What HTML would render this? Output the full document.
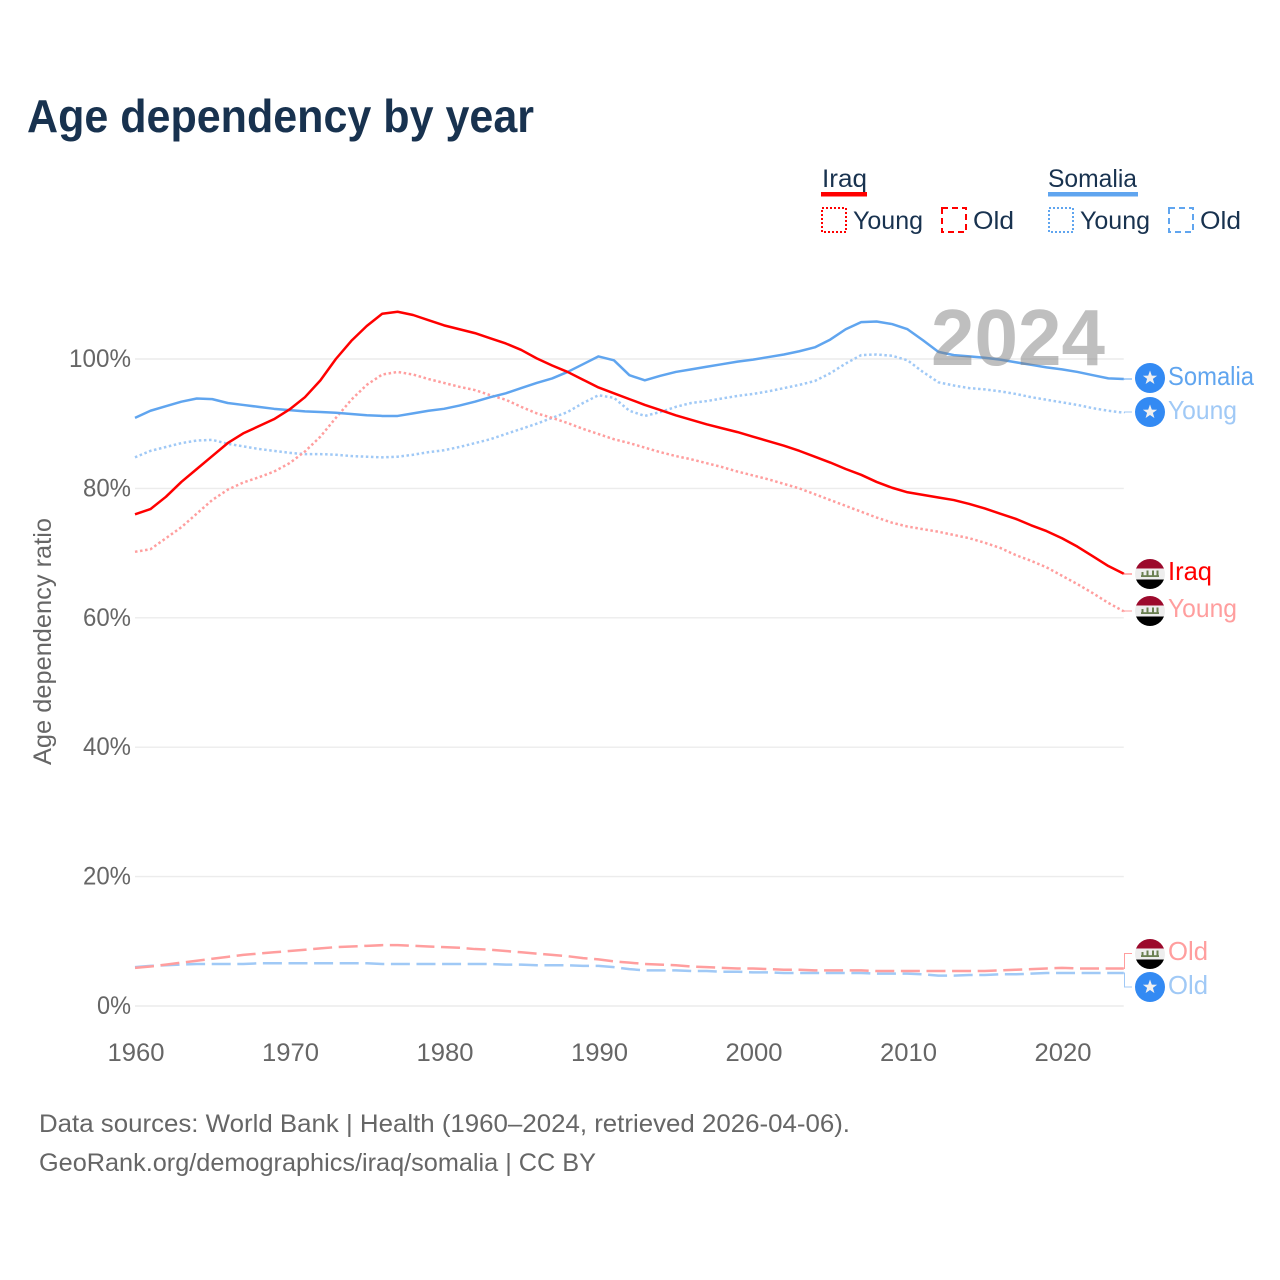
<!DOCTYPE html>
<html lang="en">
<head>
<meta charset="utf-8">
<title>Age dependency by year</title>
<style>
html,body{margin:0;padding:0;background:#fff;}
svg{display:block;}
text{font-family:"Liberation Sans",sans-serif;}
.tick{font-size:25px;fill:#666;}
.leg{font-size:25px;fill:#18324f;}
.end{font-size:26px;}
.foot{font-size:25px;fill:#666;}
</style>
</head>
<body>
<svg id="chart" xmlns="http://www.w3.org/2000/svg" width="1280" height="1280" viewBox="0 0 1280 1280">
  <defs>
    <clipPath id="badge-clip"><circle cx="0" cy="0" r="15"></circle></clipPath>
    <g id="iraq-flag">
      <g clip-path="url(#badge-clip)">
        <rect x="-15" y="-16" width="30" height="10.5" fill="#9c0a2c"></rect>
        <rect x="-15" y="-5.5" width="30" height="11" fill="#eeeeee"></rect>
        <rect x="-15" y="5.5" width="30" height="10.5" fill="#000000"></rect>
        <rect x="-9" y="1.2" width="18" height="1.8" fill="#6b8052"></rect>
        <rect x="-8.5" y="-2" width="2" height="4" fill="#6b8052"></rect>
        <rect x="-3.5" y="-3.5" width="2" height="5" fill="#6b8052"></rect>
        <rect x="2" y="-3.5" width="2" height="5" fill="#6b8052"></rect>
        <rect x="6.5" y="-3.5" width="2" height="5" fill="#6b8052"></rect>
      </g>
    </g>
    <g id="somalia-flag">
      <circle cx="0" cy="0" r="15" fill="#338af3"></circle>
      <polygon points="0,-7.5 1.8,-2.4 7.1,-2.3 2.9,0.9 4.4,6 0,3 -4.4,6 -2.9,0.9 -7.1,-2.3 -1.8,-2.4" fill="#f0f0f0"></polygon>
    </g>
  </defs>

  <text x="27" y="132" font-size="46" font-weight="700" fill="#18324f" textLength="507" lengthAdjust="spacingAndGlyphs">Age dependency by year</text>

  <g>
    <text class="leg" x="822" y="187" textLength="45" lengthAdjust="spacingAndGlyphs">Iraq</text>
    <rect x="821" y="192" width="46" height="4.5" fill="#ff0000"></rect>
    <rect x="822" y="208" width="24" height="24" fill="none" stroke="#ff0000" stroke-width="2" stroke-dasharray="2 2"></rect>
    <text class="leg" x="853" y="229" textLength="70" lengthAdjust="spacingAndGlyphs">Young</text>
    <rect x="942" y="208" width="24" height="24" fill="none" stroke="#ff0000" stroke-width="2" stroke-dasharray="6 4"></rect>
    <text class="leg" x="973" y="229" textLength="41" lengthAdjust="spacingAndGlyphs">Old</text>

    <text class="leg" x="1048" y="187" textLength="89" lengthAdjust="spacingAndGlyphs">Somalia</text>
    <rect x="1048" y="192" width="90" height="4.5" fill="#60a5ef"></rect>
    <rect x="1049" y="208" width="24" height="24" fill="none" stroke="#60a5ef" stroke-width="2" stroke-dasharray="2 2"></rect>
    <text class="leg" x="1080" y="229" textLength="70" lengthAdjust="spacingAndGlyphs">Young</text>
    <rect x="1169" y="208" width="24" height="24" fill="none" stroke="#60a5ef" stroke-width="2" stroke-dasharray="6 4"></rect>
    <text class="leg" x="1200" y="229" textLength="41" lengthAdjust="spacingAndGlyphs">Old</text>
  </g>

  <g id="grid"></g>
  <g id="y-ticks"></g>
  <g id="x-ticks"></g>
  <text transform="translate(51,765) rotate(-90)" font-size="25" fill="#666" textLength="247" lengthAdjust="spacingAndGlyphs">Age dependency ratio</text>
  <g id="series"></g>
  <g id="connectors"></g>

  <text x="931" y="365" font-size="80" font-weight="700" fill="#808080" fill-opacity="0.5" textLength="174" lengthAdjust="spacingAndGlyphs">2024</text>

  <g>
    <use href="#somalia-flag" x="1150" y="378"></use>
    <text class="end" x="1168" y="385" fill="#60a5ef" textLength="86" lengthAdjust="spacingAndGlyphs">Somalia</text>
    <use href="#somalia-flag" x="1150" y="412"></use>
    <text class="end" x="1168" y="419" fill="#a0c9f6" textLength="69" lengthAdjust="spacingAndGlyphs">Young</text>
    <use href="#iraq-flag" x="1150" y="574"></use>
    <text class="end" x="1168" y="580" fill="#ff0000" textLength="44" lengthAdjust="spacingAndGlyphs">Iraq</text>
    <use href="#iraq-flag" x="1150" y="611"></use>
    <text class="end" x="1168" y="617" fill="#ff9e9e" textLength="69" lengthAdjust="spacingAndGlyphs">Young</text>
    <use href="#iraq-flag" x="1150" y="954"></use>
    <text class="end" x="1168" y="960" fill="#ff9e9e" textLength="40" lengthAdjust="spacingAndGlyphs">Old</text>
    <use href="#somalia-flag" x="1150" y="987"></use>
    <text class="end" x="1168" y="994" fill="#a0c9f6" textLength="40" lengthAdjust="spacingAndGlyphs">Old</text>
  </g>

  <text class="foot" x="39" y="1132" textLength="811" lengthAdjust="spacingAndGlyphs">Data sources: World Bank | Health (1960–2024, retrieved 2026-04-06).</text>
  <text class="foot" x="39" y="1171" textLength="557" lengthAdjust="spacingAndGlyphs">GeoRank.org/demographics/iraq/somalia | CC BY</text>
</svg>

<script>
const startYear = 1960;
const xTickLabels = [1960, 1970, 1980, 1990, 2000, 2010, 2020];
const yTickValues = [0, 20, 40, 60, 80, 100];

const iraqTotal = [76.0,76.8,78.7,81.0,83.0,85.0,87.0,88.5,89.6,90.7,92.2,94.1,96.7,100.0,102.8,105.1,107.0,107.3,106.8,106.0,105.2,104.6,104.0,103.2,102.4,101.4,100.1,99.0,98.0,96.8,95.6,94.7,93.8,92.9,92.1,91.3,90.6,89.9,89.3,88.7,88.0,87.3,86.6,85.8,84.9,84.0,83.0,82.1,81.0,80.1,79.4,79.0,78.6,78.2,77.6,76.9,76.1,75.3,74.3,73.4,72.3,71.0,69.5,68.0,66.8];
const iraqYoung = [70.2,70.6,72.3,74.0,76.1,78.2,79.8,80.9,81.7,82.6,83.9,85.7,88.0,90.9,93.7,96.0,97.6,98.0,97.6,96.9,96.3,95.7,95.2,94.4,93.7,92.6,91.6,90.9,90.1,89.2,88.4,87.6,87.0,86.3,85.6,85.0,84.5,83.9,83.3,82.6,82.0,81.4,80.7,80.0,79.1,78.2,77.3,76.4,75.5,74.7,74.1,73.7,73.3,72.8,72.3,71.6,70.8,69.7,68.8,67.8,66.5,65.2,63.8,62.3,61.0];
const iraqOld = [5.9,6.1,6.4,6.7,7.0,7.3,7.6,7.9,8.1,8.3,8.5,8.7,8.9,9.1,9.2,9.3,9.4,9.4,9.3,9.2,9.1,9.0,8.8,8.7,8.5,8.3,8.1,7.9,7.7,7.4,7.2,6.9,6.7,6.5,6.4,6.3,6.1,6.0,5.9,5.8,5.8,5.7,5.6,5.6,5.5,5.5,5.5,5.5,5.4,5.4,5.4,5.4,5.4,5.4,5.4,5.4,5.5,5.6,5.7,5.8,5.9,5.8,5.8,5.8,5.8];
const somaliaTotal = [90.9,92.0,92.7,93.4,93.9,93.8,93.2,92.9,92.6,92.3,92.1,91.9,91.8,91.7,91.5,91.3,91.2,91.2,91.6,92.0,92.3,92.8,93.4,94.1,94.7,95.5,96.3,97.0,98.0,99.2,100.4,99.8,97.5,96.7,97.4,98.0,98.4,98.8,99.2,99.6,99.9,100.3,100.7,101.2,101.8,103.0,104.6,105.7,105.8,105.4,104.6,102.9,101.1,100.6,100.4,100.2,99.9,99.5,99.1,98.7,98.4,98.0,97.5,97.0,96.9];
const somaliaYoung = [84.8,85.8,86.4,87.0,87.4,87.5,86.9,86.5,86.1,85.8,85.5,85.3,85.3,85.2,85.0,84.9,84.8,84.9,85.2,85.6,85.9,86.4,87.0,87.6,88.4,89.2,90.0,90.9,91.8,93.2,94.4,94.0,92.0,91.2,91.8,92.6,93.2,93.5,93.9,94.3,94.6,95.0,95.5,96.0,96.6,97.8,99.3,100.6,100.7,100.5,99.8,98.0,96.4,95.9,95.5,95.3,95.0,94.6,94.1,93.7,93.3,92.9,92.4,92.0,91.7];
const somaliaOld = [6.0,6.2,6.3,6.4,6.5,6.5,6.5,6.5,6.6,6.6,6.6,6.6,6.6,6.6,6.6,6.6,6.5,6.5,6.5,6.5,6.5,6.5,6.5,6.5,6.4,6.4,6.3,6.3,6.3,6.2,6.2,6.0,5.7,5.5,5.5,5.5,5.4,5.4,5.3,5.3,5.2,5.2,5.1,5.1,5.1,5.1,5.1,5.1,5.0,5.0,5.0,4.9,4.7,4.7,4.8,4.8,4.9,4.9,5.0,5.1,5.1,5.1,5.1,5.1,5.1];

const SVG_NS = 'http://www.w3.org/2000/svg';
function xScale(year) { return 135 + (year - 1960) * 15.45; }
function yScale(pct) { return 1006 - pct * 6.47; }
function seriesPath(values) {
  return values.map(function (v, i) {
    return (i ? 'L' : 'M') + xScale(startYear + i).toFixed(2) + ' ' + yScale(v).toFixed(2);
  }).join(' ');
}

const gridGroup = document.getElementById('grid');
const yTickGroup = document.getElementById('y-ticks');
yTickValues.forEach(function (v) {
  const gl = document.createElementNS(SVG_NS, 'line');
  gl.setAttribute('x1', xScale(1960));
  gl.setAttribute('x2', xScale(2024));
  gl.setAttribute('y1', yScale(v));
  gl.setAttribute('y2', yScale(v));
  gl.setAttribute('stroke', '#ececec');
  gl.setAttribute('stroke-width', '1.4');
  
  
  gridGroup.appendChild(gl);
  const t = document.createElementNS(SVG_NS, 'text');
  t.setAttribute('class', 'tick');
  t.setAttribute('x', 131);
  t.setAttribute('y', yScale(v) + 8);
  t.setAttribute('text-anchor', 'end');
  t.setAttribute('textLength', v === 100 ? 62 : (v === 0 ? 34 : 48));
  t.setAttribute('lengthAdjust', 'spacingAndGlyphs');
  t.textContent = v + '%';
  
  
  yTickGroup.appendChild(t);
});

const xTickGroup = document.getElementById('x-ticks');
xTickLabels.forEach(function (yr) {
  const t = document.createElementNS(SVG_NS, 'text');
  t.setAttribute('class', 'tick');
  t.setAttribute('x', xScale(yr) + 1);
  t.setAttribute('y', 1061);
  t.setAttribute('text-anchor', 'middle');
  t.setAttribute('textLength', 57);
  t.setAttribute('lengthAdjust', 'spacingAndGlyphs');
  t.textContent = yr;
  
  
  xTickGroup.appendChild(t);
});

const seriesGroup = document.getElementById('series');
function drawSeries(values, name, color, dash) {
  const p = document.createElementNS(SVG_NS, 'path');
  p.setAttribute('d', seriesPath(values));
  p.setAttribute('fill', 'none');
  p.setAttribute('stroke', color);
  p.setAttribute('stroke-width', '2.5');
  p.setAttribute('stroke-linejoin', 'round');
  if (dash) p.setAttribute('stroke-dasharray', dash);
  
  
  seriesGroup.appendChild(p);
}
drawSeries(somaliaOld, 'line-somalia-old', '#a0c9f6', '19 6.6');
drawSeries(iraqOld, 'line-iraq-old', '#ff9e9e', '19 6.6');
drawSeries(somaliaYoung, 'line-somalia-young', '#a0c9f6', '2.5 2.6');
drawSeries(iraqYoung, 'line-iraq-young', '#ff9e9e', '2.5 2.6');
drawSeries(somaliaTotal, 'line-somalia-total', '#60a5ef', null);
drawSeries(iraqTotal, 'line-iraq-total', '#ff0000', null);

const connectorGroup = document.getElementById('connectors');
function drawConnector(values, labelY, color) {
  const last = yScale(values[values.length - 1]);
  const c = document.createElementNS(SVG_NS, 'path');
  c.setAttribute('d', 'M' + xScale(2024) + ' ' + last.toFixed(1) + ' H1124.5 V' + labelY + ' H1132');
  c.setAttribute('fill', 'none');
  c.setAttribute('stroke', color);
  c.setAttribute('stroke-width', '1');
  
  
  connectorGroup.appendChild(c);
}
drawConnector(somaliaTotal, 379, '#60a5ef');
drawConnector(somaliaYoung, 412, '#a0c9f6');
drawConnector(iraqTotal, 574, '#ff6666');
drawConnector(iraqYoung, 611, '#ff9e9e');
drawConnector(iraqOld, 953.5, '#ff9e9e');
drawConnector(somaliaOld, 987, '#a0c9f6');
</script>
</body>
</html>
